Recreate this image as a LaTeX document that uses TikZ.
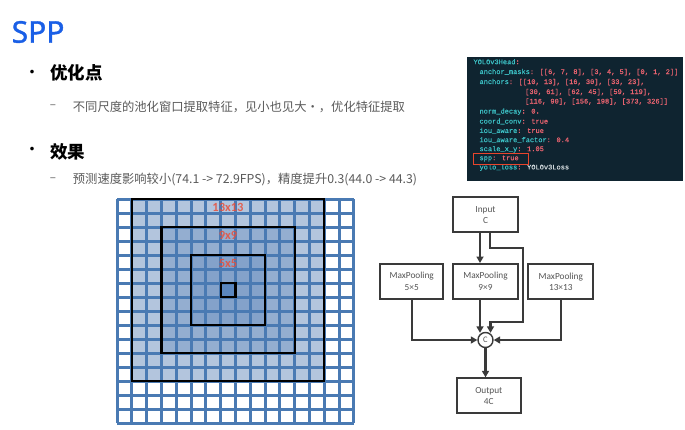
\documentclass[tikz,border=0pt]{standalone}
\usepackage{fontspec}
\setmainfont{Noto Sans CJK SC}
\newfontfamily\flowfont{Carlito}
\newfontfamily\codefont[FakeBold=0.5]{Liberation Mono}
\newfontfamily\titlefont[FakeBold=1.2]{Noto Sans}
\usetikzlibrary{arrows.meta,calc}
\definecolor{titleblue}{HTML}{1A5FE6}
\definecolor{subgray}{HTML}{5A5A5A}
\definecolor{cA}{HTML}{B3C5DD}
\definecolor{cB}{HTML}{94AED0}
\definecolor{cC}{HTML}{84A2CA}
\definecolor{cD}{HTML}{5B87BF}
\definecolor{gridblue}{HTML}{4A7AB3}
\definecolor{lblred}{HTML}{E8503C}
\definecolor{flowline}{HTML}{3A3A3A}
\definecolor{flowtext}{HTML}{555555}
\definecolor{panel}{HTML}{0F2430}
\definecolor{keyc}{HTML}{3CC0C4}
\definecolor{valc}{HTML}{E8636F}
\definecolor{plainc}{HTML}{D0D8DC}
\definecolor{sppred}{HTML}{E8452C}
\newcommand{\K}[1]{\textcolor{keyc}{#1}}
\newcommand{\V}[1]{\textcolor{valc}{#1}}
\tikzset{
  heading/.style={anchor=west, inner sep=0, font=\fontsize{17.5}{20}\selectfont\bfseries, text=black},
  bulletdot/.style={inner sep=0, font=\fontsize{17}{18}\selectfont, text=black},
  subdash/.style={inner sep=0, font=\fontsize{11.5}{14}\selectfont, text=subgray},
  subtext/.style={anchor=west, inner sep=0, font=\fontsize{12.3}{14}\selectfont, text=subgray},
  gridl/.style={draw=gridblue, line width=3pt},
  boxl/.style={draw=black, line width=2.2pt},
  lbl/.style={inner sep=0, font=\flowfont\bfseries\fontsize{12.5}{14}\selectfont, text=lblred, opacity=0.85},
  fbox/.style={draw=flowline, line width=2pt, fill=white, minimum height=35pt, inner sep=0,
    align=center, font=\flowfont\fontsize{9.3}{11.5}\selectfont, text=flowtext},
  arr/.style={draw=flowline, line width=2.1pt, -{Triangle[length=6.5pt,width=7pt]}},
  codeline/.style={anchor=west, inner sep=0, font=\codefont\fontsize{7}{8}\selectfont}
}
\begin{document}
\begin{tikzpicture}[x=1pt,y=-1pt]
\useasboundingbox (0,0) rectangle (685,429);
\fill[white] (0,0) rectangle (685,429);

% title and text
\node[anchor=base west, inner sep=0, font=\titlefont\fontsize{30}{34}\selectfont, text=titleblue] (title) at (11.5,42.7) {SPP};
\node[bulletdot] (b1) at (32,74) {•};
\node[heading] (h1) at (50,73.3) {优化点};
\node[subdash] (d1) at (53,106.7) {–};
\node[subtext] (t1) at (72.7,106.7) {不同尺度的池化窗口提取特征，见小也见大·，优化特征提取};
\node[bulletdot] (b2) at (32,151.7) {•};
\node[heading] (h2) at (50,151.7) {效果};
\node[subdash] (d2) at (53,180) {–};
\node[subtext] (t2) at (72.7,180) {预测速度影响较小(74.1 -> 72.9FPS)，精度提升0.3(44.0 -> 44.3)};

% code panel
\fill[panel] (466.7,56.7) rectangle (683,180.5);
\node[codeline] (c0) at (473.3,61.7) {\K{YOLOv3Head}\V{:}};
\node[codeline] (c1) at (479.3,72.2) {\K{anchor\_masks}\V{: [[6, 7, 8], [3, 4, 5], [0, 1, 2]]}};
\node[codeline] (c2) at (479.3,82.2) {\K{anchors}\V{: [[10, 13], [16, 30], [33, 23],}};
\node[codeline] (c3) at (525,92.2) {\V{[30, 61], [62, 45], [59, 119],}};
\node[codeline] (c4) at (525,101.7) {\V{[116, 90], [156, 198], [373, 326]]}};
\node[codeline] (c5) at (479.3,111.7) {\K{norm\_decay}\V{: 0.}};
\node[codeline] (c6) at (479.3,121.4) {\K{coord\_conv}\V{: true}};
\node[codeline] (c7) at (479.3,130.8) {\K{iou\_aware}\V{: true}};
\node[codeline] (c8) at (479.3,140) {\K{iou\_aware\_factor}\V{: 0.4}};
\node[codeline] (c9) at (479.3,149.3) {\K{scale\_x\_y}\V{: 1.05}};
\node[codeline] (c10) at (479.3,158.6) {\K{spp}\V{: true}};
\node[codeline] (c11) at (479.3,167.6) {\K{yolo\_loss}\V{:} \textcolor{plainc}{YOLOv3Loss}};
\draw[sppred, line width=1.6pt] (473.3,153.3) rectangle (528.3,164.6);

% grid
\begin{scope}[shift={(117,199)}, x=14.8pt, y=-14pt]
  \fill[cA] (1,0) rectangle (14,13);
  \fill[cB] (3,2) rectangle (12,11);
  \fill[cC] (5,4) rectangle (10,9);
  \fill[cD] (7,6) rectangle (8,7);
  \foreach \i in {0,...,16} {
    \draw[gridl] (\i,0) -- (\i,16);
    \draw[gridl] (0,\i) -- (16,\i);
  }
  \draw[boxl] (1,0) rectangle (14,13);
  \draw[boxl] (3,2) rectangle (12,11);
  \draw[boxl] (5,4) rectangle (10,9);
  \draw[boxl] (7,6) rectangle (8,7);
  \node[lbl] (l13) at (7.5,0.6) {13x13};
  \node[lbl] (l9) at (7.5,2.6) {9x9};
  \node[lbl] (l5) at (7.5,4.6) {5x5};
\end{scope}

% flow chart
\node[fbox, minimum width=64.4pt] (inp) at (485.5,214.8) {Input\\C};
\node[fbox, minimum width=63.3pt] (mp5) at (411.7,281.5) {MaxPooling\\5×5};
\node[fbox, minimum width=64.4pt] (mp9) at (485.5,281.5) {MaxPooling\\9×9};
\node[fbox, minimum width=65pt] (mp13) at (560.8,281.7) {MaxPooling\\13×13};
\node[circle, draw=flowline, line width=1.4pt, fill=white, minimum size=15pt, inner sep=0,
      font=\flowfont\fontsize{8.5}{9}\selectfont, text=flowtext] (cc) at (485.5,340) {C};
\node[fbox, minimum width=64.3pt] (out) at (488.8,395.8) {Output\\4C};

\draw[arr] ([xshift=-5.5pt]inp.south) -- ([xshift=-5.5pt]mp9.north);
\draw[arr] ([xshift=4.5pt]inp.south) -- ++(0,14.4) -- ++(33.3,0) |- ([xshift=5pt,yshift=9.4pt]cc.north) -- ([xshift=5pt,yshift=-1pt]cc.north);
\draw[arr] ([xshift=-5.5pt]mp9.south) -- ([xshift=-5.5pt,yshift=-1pt]mp9.south |- cc.north);
\draw[arr] (mp5.south) |- (cc.west);
\draw[arr] (mp13.south) |- (cc.east);
\draw[arr] (cc.south) -- (cc.south |- out.north);
\end{tikzpicture}
\end{document}
